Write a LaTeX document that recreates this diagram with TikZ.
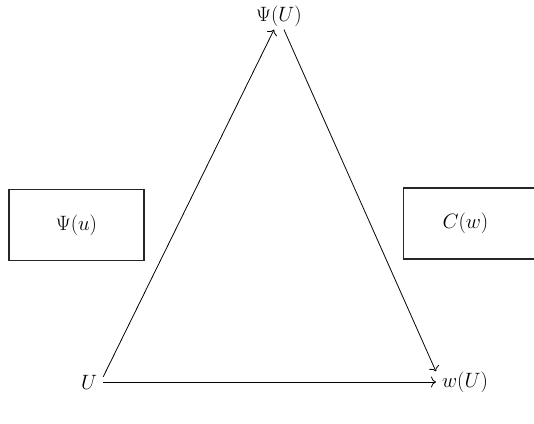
\documentclass[tikz,border=0pt]{standalone}
\usetikzlibrary{arrows.meta}
\begin{document}
\begin{tikzpicture}[x=1pt,y=-1pt,
  lbl/.style={font=\fontsize{22}{26}\selectfont, inner xsep=6pt, inner ysep=3pt},
  boxnode/.style={draw=black!85, line width=1.1pt, font=\fontsize{22}{26}\selectfont},
  arr/.style={-{To[length=5pt,width=11pt]}, line width=0.8pt}]
\useasboundingbox (0,0) rectangle (534,423);
\node[lbl] (PsiU) at (279,16) {$\Psi(U)$};
\node[lbl] (U) at (89,382) {$U$};
\node[lbl] (wU) at (465,382) {$w(U)$};
\node[boxnode, minimum width=135pt, minimum height=71pt] (Psiu) at (76.5,225) {$\Psi(u)$};
\node[boxnode, minimum height=71pt, text width=62pt, inner xsep=39pt, align=left, anchor=west] (Cw) at (403,223.5) {$C(w)$};
\draw[arr] (U.20) -- (PsiU.250);
\draw[arr] (PsiU.290) -- (wU.160);
\draw[arr] (U.east) -- (wU.west);
\end{tikzpicture}
\end{document}
